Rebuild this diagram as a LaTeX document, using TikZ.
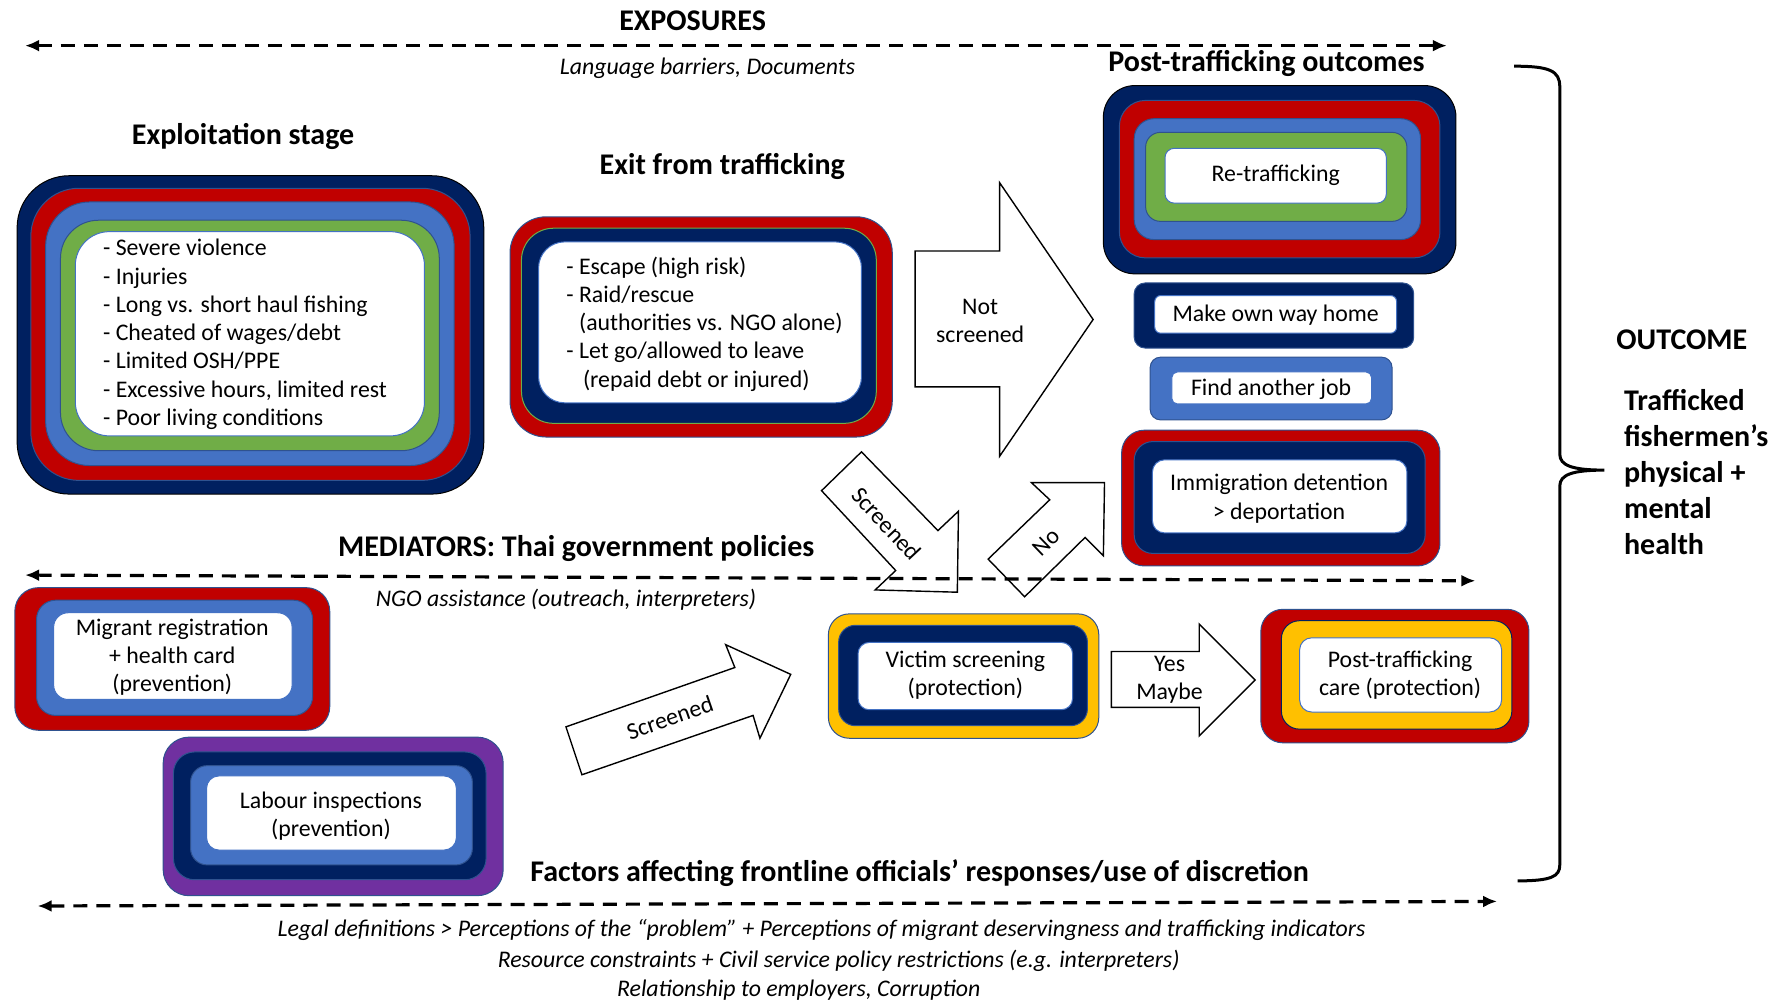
\documentclass[tikz,border=0pt]{standalone}
\usepackage{fontspec}
\setmainfont{Carlito}
\usetikzlibrary{arrows.meta}
\definecolor{navy}{HTML}{002060}
\definecolor{deepred}{HTML}{C00000}
\definecolor{midblue}{HTML}{4472C4}
\definecolor{leafgreen}{HTML}{70AD47}
\definecolor{gold}{HTML}{FFC000}
\definecolor{violet}{HTML}{7030A0}
\definecolor{edgeblue}{HTML}{2F528F}
\newcommand{\bodysize}{\fontsize{11.9}{14.1}\selectfont}
\newcommand{\headsize}{\fontsize{15}{18}\selectfont\bfseries}
\newcommand{\outsize}{\fontsize{15}{18}\selectfont\bfseries}
\begin{document}
\begin{tikzpicture}[x=0.57pt,y=-0.57pt,
    ringbox/.style={draw=edgeblue,line width=0.5pt,rounded corners=#1},
    boxtext/.style={font=\bodysize,align=center,inner sep=0pt},
    listtext/.style={font=\bodysize,align=left,anchor=west,inner sep=0pt},
    heading/.style={font=\headsize,inner sep=0pt},
    notetext/.style={font=\bodysize\itshape,inner sep=0pt},
    blockarrow/.style={draw=black,fill=white,line width=0.7pt,line join=miter},
    rangeline/.style={{Latex[length=7pt,width=6pt]}-{Latex[length=7pt,width=6pt]},
      dash pattern=on 7pt off 4.5pt,line width=1.6pt},
  ]
  \useasboundingbox (0,0) rectangle (1560,878);

  \node[heading] (exposures) at (607,18) {EXPOSURES};
  \coordinate (expL) at (22,40);
  \coordinate (expR) at (1268,40);
  \draw[rangeline] (expL) -- (expR);
  \node[notetext] (exptext) at (620,60) {Language barriers, Documents};

  \node[heading] (exploittitle) at (213,120) {Exploitation stage};
  \draw[ringbox=26pt,fill=navy,draw=black] (15,154) rectangle (424,433);
  \draw[ringbox=24pt,fill=deepred] (27,165) rectangle (412,421);
  \draw[ringbox=22pt,fill=midblue] (40,177) rectangle (398,408);
  \draw[ringbox=19pt,fill=leafgreen] (53,193) rectangle (385,395);
  \draw[ringbox=17pt,fill=white,draw=midblue] (66,203) rectangle (372,382);
  \node[listtext] (exploit) at (90,293) {- Severe violence\\- Injuries\\- Long vs. short haul fishing\\- Cheated of wages/debt\\- Limited OSH/PPE\\- Excessive hours, limited rest\\- Poor living conditions};

  \node[heading] (exittitle) at (633,146) {Exit from trafficking};
  \draw[ringbox=18pt,fill=deepred] (447,190) rectangle (782,383);
  \draw[ringbox=16pt,fill=navy,draw=leafgreen] (457,200) rectangle (768,371);
  \draw[ringbox=13pt,fill=white,draw=midblue] (472,212) rectangle (755,353);
  \node[listtext] (exit) at (496,284) {- Escape (high risk)\\- Raid/rescue\\\phantom{- }(authorities vs. NGO alone)\\- Let go/allowed to leave\\\phantom{- }\,(repaid debt or injured)};

  \node[heading] (posttitle) at (1110,56) {Post-trafficking outcomes};
  \draw[ringbox=15.7pt,fill=navy,draw=black] (967,75) rectangle (1276,240);
  \draw[ringbox=13pt,fill=deepred] (981,88) rectangle (1262,226);
  \draw[ringbox=10pt,fill=midblue] (994,104) rectangle (1245,210);
  \draw[ringbox=7.4pt,fill=leafgreen] (1004,116) rectangle (1233,194);
  \draw[ringbox=4.6pt,fill=white,draw=midblue] (1021,130) rectangle (1215,178);
  \node[boxtext] (retraffic) at (1118,154) {Re-trafficking};

  \draw[ringbox=5.4pt,fill=navy] (994,248) rectangle (1239,305);
  \draw[ringbox=3pt,fill=white,draw=midblue] (1012,259) rectangle (1224,292);
  \node[boxtext] (ownway) at (1118,276) {Make own way home};

  \draw[ringbox=5.2pt,fill=midblue] (1008,313) rectangle (1220,368);
  \draw[ringbox=2.7pt,fill=white,draw=midblue] (1027,326) rectangle (1202,354);
  \node[boxtext] (anotherjob) at (1114,341) {Find another job};

  \draw[ringbox=11.3pt,fill=deepred] (983,377) rectangle (1262,496);
  \draw[ringbox=9.3pt,fill=navy] (994,387) rectangle (1249,485);
  \draw[ringbox=6pt,fill=white,draw=midblue] (1010,403) rectangle (1233,467);
  \node[boxtext] (detention) at (1121,437) {Immigration detention\\> deportation};

  \draw[blockarrow] (802,220) -- (876,220) -- (876,160) -- (958,280) -- (876,400) -- (876,339) -- (802,339) -- cycle;
  \node[boxtext] (notscreened) at (859,281) {Not\\screened};

  \draw[blockarrow] (755,396) -- (822,465) -- (840,448) -- (839,519) -- (767,517) -- (785,500) -- (720,430) -- cycle;
  \node[boxtext,rotate=-47] (screenedtop) at (777,459) {Screened};

  \draw[blockarrow] (898,523) -- (866,490) -- (920,438) -- (904,423) -- (968,423) -- (967,487) -- (951,471) -- cycle;
  \node[boxtext,rotate=44] (nolabel) at (917,475) {No};

  \node[heading] (mediators) at (505,481) {MEDIATORS: Thai government policies};
  \coordinate (medL) at (22,504);
  \coordinate (medR) at (1293,509);
  \draw[rangeline] (medL) -- (medR);
  \node[notetext] (medtext) at (496,526) {NGO assistance (outreach, interpreters)};

  \draw[ringbox=11.8pt,fill=deepred] (13,515) rectangle (289,640);
  \draw[ringbox=9.6pt,fill=midblue] (32,526) rectangle (274,627);
  \draw[ringbox=7.2pt,fill=white,draw=midblue] (47,537) rectangle (256,613);
  \node[boxtext] (registration) at (151,576) {Migrant registration\\+ health card\\(prevention)};

  \draw[ringbox=13pt,fill=violet] (143,646) rectangle (441,785);
  \draw[ringbox=10.6pt,fill=navy] (152,659) rectangle (426,771);
  \draw[ringbox=8.3pt,fill=midblue] (167,671) rectangle (414,758);
  \draw[ringbox=6.2pt,fill=white,draw=midblue] (181,680) rectangle (400,745);
  \node[boxtext] (inspections) at (290,715) {Labour inspections\\(prevention)};

  \draw[blockarrow] (496,637) -- (510,679) -- (660,627) -- (666,647) -- (693,591) -- (636,565) -- (644,585) -- cycle;
  \node[boxtext,rotate=19] (screenedlow) at (587,629) {Screened};

  \draw[ringbox=10.4pt,fill=gold] (726,538) rectangle (963,647);
  \draw[ringbox=8.4pt,fill=navy] (735,548) rectangle (953,636);
  \draw[ringbox=5.6pt,fill=white,draw=midblue] (752,563) rectangle (940,622);
  \node[boxtext] (screening) at (846,592) {Victim screening\\(protection)};

  \draw[blockarrow] (974,571) -- (1051,571) -- (1051,547) -- (1100,596) -- (1051,645) -- (1051,620) -- (974,620) -- cycle;
  \node[boxtext] (yesmaybe) at (1025,596) {Yes\\Maybe};

  \draw[ringbox=11pt,fill=deepred] (1105,534) rectangle (1340,651);
  \draw[ringbox=9pt,fill=gold,draw=navy] (1123,544) rectangle (1325,639);
  \draw[ringbox=6pt,fill=white,draw=midblue] (1139,559) rectangle (1316,624);
  \node[boxtext] (care) at (1227,592) {Post-trafficking\\care (protection)};

  \node[heading] (factors) at (806,765) {Factors affecting frontline officials’ responses/use of discretion};
  \coordinate (facL) at (33,794);
  \coordinate (facR) at (1312,790);
  \draw[rangeline] (facL) -- (facR);
  \node[notetext] (factext1) at (720,815) {Legal definitions > Perceptions of the “problem” + Perceptions of migrant deservingness and trafficking indicators};
  \node[notetext] (factext2) at (735,842) {Resource constraints + Civil service policy restrictions (e.g. interpreters)};
  \node[notetext] (factext3) at (700,868) {Relationship to employers, Corruption};

  \coordinate (braceTop) at (1327,58);
  \coordinate (braceTip) at (1406,412);
  \coordinate (braceBot) at (1330,772);
  \draw[line width=1.5pt] (braceTop) .. controls (1358,58) and (1367,62) .. (1367,76)
    -- (1367,398) .. controls (1367,408) and (1378,412) .. (braceTip)
    .. controls (1378,412) and (1367,416) .. (1367,426)
    -- (1367,758) .. controls (1367,768) and (1360,772) .. (braceBot);
  \node[font=\outsize,inner sep=0pt] (outcome) at (1474,298) {OUTCOME};
  \node[font=\outsize,align=left,anchor=west,inner sep=0pt] (health) at (1423,414) {Trafficked\\fishermen’s\\physical +\\mental\\health};
\end{tikzpicture}
\end{document}
